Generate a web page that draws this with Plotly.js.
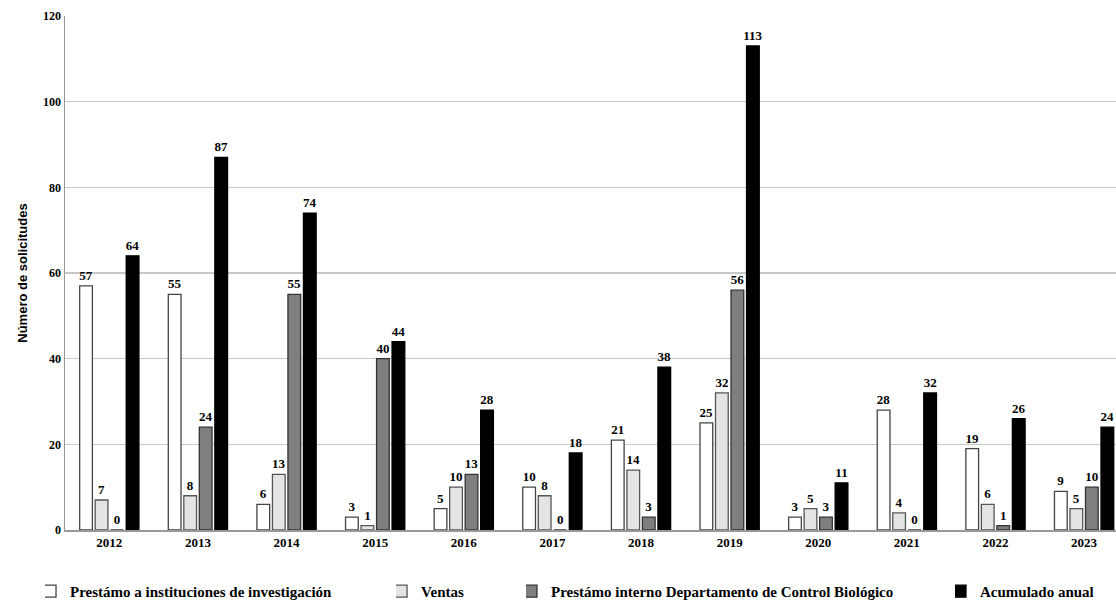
<!DOCTYPE html>
<html><head><meta charset="utf-8">
<script src="https://cdn.plot.ly/plotly-3.0.1.min.js"></script>
<style>body{margin:0;background:#fff}#c{width:1116px;height:606px}</style>
</head><body><div id="c"></div>
<script>
const years = ['2012','2013','2014','2015','2016','2017','2018','2019','2020','2021','2022','2023'];
const prestamoInst = [57,55,6,3,5,10,21,25,3,28,19,9];
const ventas = [7,8,13,1,10,8,14,32,5,4,6,5];
const prestamoInterno = [0,24,55,40,13,0,3,56,3,0,1,10];
const acumulado = [64,87,74,44,28,18,38,113,11,32,26,24];
const names = ['Prestámo a instituciones de investigación','Ventas','Prestámo interno Departamento de Control Biológico','Acumulado anual'];

const serif = 'Liberation Serif, Times New Roman, serif';
const fills = ['#ffffff','#e4e4e4','#7f7f7f','#000000'];
const lines = ['#444444','#555555','#333333','#000000'];
const series = [prestamoInst, ventas, prestamoInterno, acumulado];
const legends = ['legend','legend2','legend3','legend4'];

const traces = series.map((s,i)=>({
  type:'bar', x:years, y:s, name:names[i],
  marker:{color:fills[i], line:{color:lines[i], width:1.3}},
  text:s.map(String), textposition:'outside', cliponaxis:false, constraintext:'none',
  textfont:{family:serif, size:13, color:'#000', weight:'bold'},
  legend:legends[i]
}));

const legPos = [-0.019, 0.315, 0.4386, 0.8468];
const mkLeg = x => ({orientation:'h', x:x, xanchor:'left', yref:'container', y:0.024, yanchor:'middle',
  font:{family:serif, size:15, color:'#000', weight:'bold'}, bgcolor:'rgba(0,0,0,0)',
  itemwidth:30, tracegroupgap:0, indentation:-15});

const layout = {
  width:1116, height:606,
  margin:{l:65, r:0, t:16, b:76},
  paper_bgcolor:'#fff', plot_bgcolor:'#fff',
  barmode:'group', bargap:0.3, bargroupgap:0.18,
  showlegend:true,
  legend:mkLeg(legPos[0]), legend2:mkLeg(legPos[1]), legend3:mkLeg(legPos[2]), legend4:mkLeg(legPos[3]),
  xaxis:{type:'category', range:[-0.5, 11.36], showline:true, linecolor:'#999', linewidth:1.5,
    ticks:'', tickfont:{family:serif, size:13, color:'#000', weight:'bold'}, fixedrange:true},
  yaxis:{range:[0,120], dtick:20, showgrid:true, gridcolor:'#c8c8c8', gridwidth:1.5,
    showline:true, linecolor:'#999', linewidth:1.5, zeroline:false,
    ticks:'', tickfont:{family:serif, size:12, color:'#000', weight:'bold'},
    title:{text:'Número de solicitudes', font:{family:'Liberation Sans, Arial, sans-serif', size:13, color:'#000', weight:'bold'}, standoff:12}}
};
Plotly.newPlot('c', traces, layout, {displayModeBar:false, staticPlot:true});
</script></body></html>
